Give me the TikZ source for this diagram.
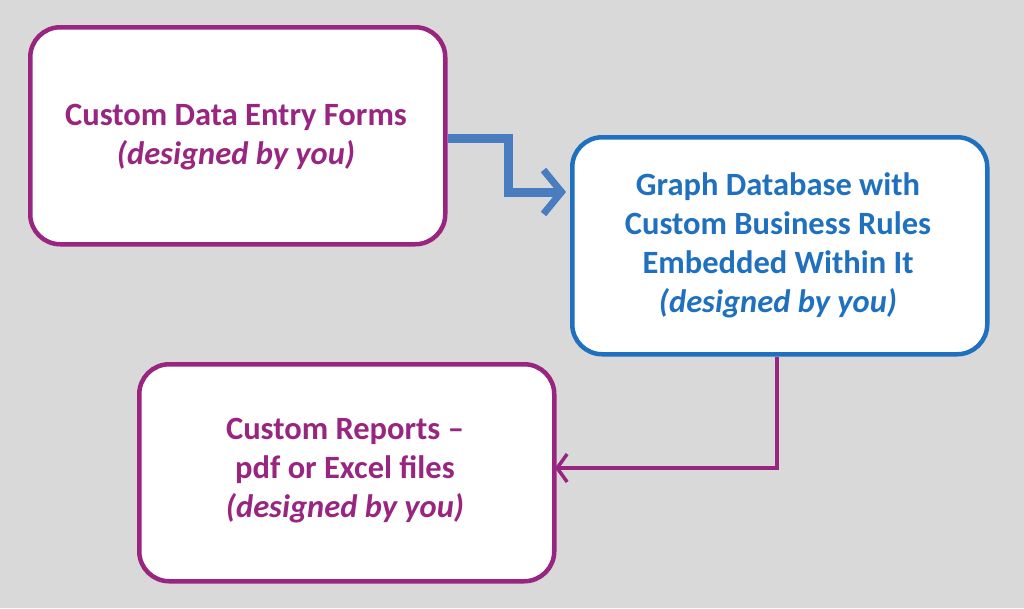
\documentclass[tikz,border=0pt]{standalone}
\usepackage{fontspec}
\setmainfont{Carlito}
\usetikzlibrary{arrows.meta}
\definecolor{pur}{HTML}{982580}
\definecolor{blu}{HTML}{1F70BF}
\definecolor{arb}{HTML}{4A7DC0}
\definecolor{bg}{HTML}{D9D9D9}
\begin{document}
\begin{tikzpicture}[x=1pt,y=-1pt,
  box/.style={draw,line width=4.5pt,fill=white,rounded corners=30pt,minimum width=415pt,minimum height=217pt,anchor=north west,inner sep=0pt},
  txt/.style={font=\fontsize{32.5}{39}\selectfont\bfseries,align=center}]
\fill[bg] (0,0) rectangle (1024,608);
\useasboundingbox (0,0) rectangle (1024,608);
\node[box,draw=pur] (a) at (28,25) {};
\node[box,draw=blu] (b) at (570,135) {};
\node[box,draw=pur] (c) at (137,362) {};
\node[txt,text=pur] at (236,137) {Custom Data Entry Forms\\\textit{(designed by you)}};
\node[txt,text=blu] at (778,245) {Graph Database with\\Custom Business Rules\\Embedded Within It\\\textit{(designed by you)}};
\node[txt,text=pur] at (345,471) {Custom Reports --\\pdf or Excel files\\\textit{(designed by you)}};
\coordinate (a1) at (a.east|-0,138);
\coordinate (b1) at (566,192);
\draw[arb,line width=9pt,-{Straight Barb[length=18pt,width=44pt,line width=7pt]}] (a1) -- (508,138) -- (508,192) -- (b1);
\coordinate (c1) at (555,468);
\draw[pur,line width=3.5pt,-{Straight Barb[length=10pt,width=28pt,line width=3.5pt]}] (b.south-|777,0) -- (777,468) -- (c1);
\end{tikzpicture}
\end{document}
